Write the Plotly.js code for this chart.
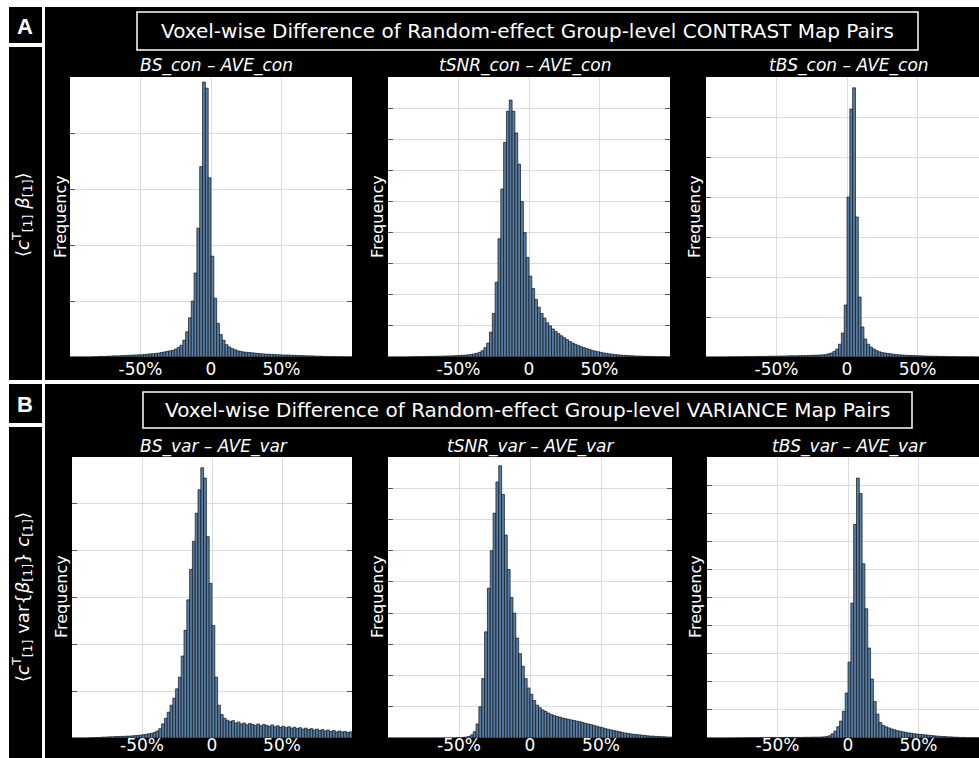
<!DOCTYPE html>
<html>
<head>
<meta charset="utf-8">
<script src="https://cdn.plot.ly/plotly-3.0.1.min.js"></script>
<style>
  html, body { margin: 0; padding: 0; background: #ffffff; }
  #chart { width: 979px; height: 758px; }
</style>
</head>
<body>
<div id="chart"></div>
<script>
// ---------------- DATA ----------------
// Histogram bins: 2% wide, first bin centred at -99%, last at +99% (100 bins)
const binStart = -99;
const binWidth = 2;

const xTickVals = [-50, 0, 50];
const xTickText = ['-50%', '0', '50%'];

const panelTitles = [
  'Voxel-wise Difference of Random-effect Group-level CONTRAST Map Pairs',
  'Voxel-wise Difference of Random-effect Group-level VARIANCE Map Pairs'
];
const subplotTitles = [
  'BS_con – AVE_con', 'tSNR_con – AVE_con', 'tBS_con – AVE_con',
  'BS_var – AVE_var', 'tSNR_var – AVE_var', 'tBS_var – AVE_var'
];
const yAxisLabel = 'Frequency';
const panelLetters = ['A', 'B'];
const rowLabels = [
  '⟨<i>c</i><sup>T</sup><sub>[1]</sub> <i>β</i><sub>[1]</sub>⟩',
  '⟨<i>c</i><sup>T</sup><sub>[1]</sub> var{<i>β</i><sub>[1]</sub>} <i>c</i><sub>[1]</sub>⟩'
];

// frequencies (arbitrary units, gridline = 1)
const bsCon = [
  0, 0, 0, 0, 0, 0, 0, 0, 0.005, 0.005,
  0.01, 0.01, 0.01, 0.015, 0.015, 0.02, 0.02, 0.02, 0.025, 0.025,
  0.03, 0.03, 0.035, 0.035, 0.04, 0.04, 0.045, 0.05, 0.055, 0.06,
  0.065, 0.07, 0.08, 0.09, 0.1, 0.11, 0.12, 0.14, 0.17, 0.21,
  0.3, 0.45, 0.7, 1.0, 1.5, 2.3, 3.4, 4.91, 4.8, 3.2,
  1.8, 1.05, 0.6, 0.4, 0.3, 0.22, 0.18, 0.15, 0.13, 0.11,
  0.1, 0.09, 0.085, 0.08, 0.075, 0.07, 0.065, 0.06, 0.055, 0.05,
  0.05, 0.045, 0.045, 0.04, 0.04, 0.035, 0.035, 0.035, 0.03, 0.03,
  0.028, 0.025, 0.025, 0.022, 0.02, 0.02, 0.018, 0.015, 0.015, 0.012,
  0.01, 0.01, 0.008, 0.008, 0.006, 0.005, 0.005, 0.004, 0.003, 0.003
];
const tsnrCon = [
  0, 0, 0, 0, 0, 0, 0, 0.005, 0.005, 0.01,
  0.01, 0.01, 0.015, 0.015, 0.02, 0.02, 0.02, 0.025, 0.025, 0.03,
  0.03, 0.035, 0.035, 0.04, 0.045, 0.05, 0.055, 0.06, 0.07, 0.08,
  0.1, 0.12, 0.15, 0.2, 0.3, 0.45, 0.8, 1.4, 2.4, 3.8,
  5.4, 6.9, 7.9, 8.26, 7.9, 7.2, 6.2, 5.0, 4.0, 3.2,
  2.6, 2.2, 1.85, 1.6, 1.4, 1.25, 1.1, 1.0, 0.9, 0.82,
  0.75, 0.68, 0.62, 0.56, 0.5, 0.45, 0.41, 0.37, 0.33, 0.3,
  0.27, 0.24, 0.21, 0.19, 0.17, 0.15, 0.13, 0.12, 0.1, 0.09,
  0.08, 0.07, 0.06, 0.055, 0.05, 0.045, 0.04, 0.035, 0.03, 0.03,
  0.025, 0.02, 0.02, 0.015, 0.015, 0.01, 0.01, 0.01, 0.005, 0.005
];
const tbsCon = [
  0, 0, 0, 0, 0, 0, 0, 0, 0.005, 0.005,
  0.005, 0.005, 0.005, 0.01, 0.01, 0.01, 0.01, 0.01, 0.015, 0.015,
  0.015, 0.015, 0.02, 0.02, 0.02, 0.02, 0.025, 0.025, 0.025, 0.03,
  0.03, 0.03, 0.03, 0.035, 0.035, 0.035, 0.04, 0.04, 0.045, 0.045,
  0.05, 0.055, 0.06, 0.08, 0.1, 0.14, 0.2, 0.32, 0.6, 1.3,
  4.0, 6.2, 6.73, 3.5, 1.5, 0.75, 0.45, 0.32, 0.25, 0.2,
  0.16, 0.13, 0.11, 0.1, 0.09, 0.08, 0.07, 0.06, 0.055, 0.05,
  0.045, 0.04, 0.04, 0.035, 0.035, 0.03, 0.03, 0.025, 0.025, 0.02,
  0.02, 0.02, 0.015, 0.015, 0.015, 0.01, 0.01, 0.01, 0.01, 0.005,
  0.005, 0.005, 0.005, 0.005, 0.005, 0, 0, 0, 0, 0
];
const bsVar = [
  0, 0, 0, 0, 0, 0, 0.005, 0.005, 0.01, 0.01,
  0.015, 0.02, 0.02, 0.025, 0.025, 0.03, 0.03, 0.035, 0.035, 0.04,
  0.04, 0.045, 0.05, 0.055, 0.06, 0.07, 0.08, 0.09, 0.1, 0.12,
  0.15, 0.2, 0.3, 0.42, 0.55, 0.7, 0.85, 1.05, 1.3, 1.75,
  2.3, 2.95, 3.6, 4.2, 4.8, 5.3, 5.77, 5.55, 4.3, 3.3,
  2.4, 1.3, 0.7, 0.5, 0.42, 0.38, 0.35, 0.37, 0.32, 0.34,
  0.3, 0.32, 0.28, 0.31, 0.29, 0.27, 0.3, 0.26, 0.29, 0.27,
  0.25, 0.28, 0.24, 0.26, 0.23, 0.25, 0.22, 0.24, 0.21, 0.23,
  0.2, 0.22, 0.19, 0.21, 0.18, 0.2, 0.17, 0.19, 0.16, 0.18,
  0.15, 0.17, 0.14, 0.16, 0.13, 0.15, 0.13, 0.14, 0.12, 0.13
];
const tsnrVar = [
  0, 0, 0, 0, 0, 0, 0, 0, 0, 0,
  0, 0, 0, 0, 0, 0, 0, 0, 0, 0,
  0, 0, 0, 0.005, 0.01, 0.01, 0.02, 0.03, 0.05, 0.1,
  0.2, 0.45, 1.0, 1.9, 3.4, 4.8, 6.0, 7.2, 8.2, 8.72,
  7.8, 6.5, 5.4, 4.5, 4.0, 3.2, 2.7, 2.3, 1.9, 1.6,
  1.4, 1.2, 1.05, 0.97, 0.9, 0.85, 0.8, 0.75, 0.72, 0.69,
  0.67, 0.64, 0.62, 0.6, 0.58, 0.56, 0.54, 0.52, 0.5, 0.47,
  0.45, 0.43, 0.4, 0.38, 0.35, 0.33, 0.3, 0.28, 0.26, 0.24,
  0.22, 0.2, 0.18, 0.16, 0.15, 0.13, 0.12, 0.11, 0.1, 0.09,
  0.08, 0.07, 0.06, 0.06, 0.05, 0.05, 0.04, 0.04, 0.03, 0.03
];
const tbsVar = [
  0, 0, 0, 0, 0, 0, 0, 0, 0, 0,
  0.005, 0.005, 0.005, 0.005, 0.01, 0.01, 0.01, 0.01, 0.01, 0.01,
  0.01, 0.01, 0.015, 0.015, 0.015, 0.015, 0.015, 0.02, 0.02, 0.02,
  0.02, 0.02, 0.02, 0.02, 0.025, 0.025, 0.025, 0.03, 0.03, 0.03,
  0.035, 0.04, 0.05, 0.08, 0.15, 0.25, 0.4, 0.6, 0.95, 1.6,
  2.7, 4.8, 7.6, 9.25, 8.7, 6.2, 4.6, 3.2, 2.1, 1.3,
  0.85, 0.55, 0.45, 0.4, 0.36, 0.32, 0.29, 0.26, 0.24, 0.22,
  0.2, 0.18, 0.17, 0.15, 0.14, 0.13, 0.12, 0.11, 0.1, 0.09,
  0.08, 0.07, 0.06, 0.05, 0.05, 0.04, 0.04, 0.03, 0.03, 0.02,
  0.02, 0.02, 0.01, 0.01, 0.01, 0.01, 0.01, 0.01, 0.01, 0.01
];
const seriesList = [bsCon, tsnrCon, tbsCon, bsVar, tsnrVar, tbsVar];

// ---------------- LAYOUT HELPERS ----------------
const W = 979, H = 758;
const px = x => x / W;
const py = y => 1 - y / H;
const FONT = 'DejaVu Sans';

// plot-area geometry in pixels (left, right, top, bottom), x-range end, y max, mirror ticks
const geo = [
  { l: 70,  r: 352, t: 77,  b: 357, xEnd: 100,  yMax: 5,  mirror: true,  stand: 0 },
  { l: 388, r: 670, t: 77,  b: 357, xEnd: 100,  yMax: 9,  mirror: true,  stand: 0 },
  { l: 706, r: 979, t: 77,  b: 357, xEnd: 93.6, yMax: 7,  mirror: false, stand: 0 },
  { l: 72,  r: 352, t: 457, b: 738, xEnd: 100,  yMax: 6,  mirror: true,  stand: -5 },
  { l: 388, r: 672, t: 457, b: 738, xEnd: 100,  yMax: 9,  mirror: true,  stand: -5 },
  { l: 707, r: 979, t: 457, b: 738, xEnd: 92.9, yMax: 10, mirror: false, stand: -5 }
];

const traces = [];
const layout = {
  width: W, height: H,
  margin: { l: 0, r: 0, t: 0, b: 0, pad: 0 },
  paper_bgcolor: '#000000',
  plot_bgcolor: '#ffffff',
  showlegend: false,
  bargap: 0,
  font: { family: FONT, color: '#ffffff', size: 12 },
  shapes: [],
  annotations: []
};

geo.forEach((g, i) => {
  const sfx = i === 0 ? '' : String(i + 1);
  traces.push({
    type: 'bar',
    x0: binStart, dx: binWidth,
    y: seriesList[i],
    xaxis: 'x' + sfx, yaxis: 'y' + sfx,
    marker: { color: '#577ea6', line: { color: '#111111', width: 0.7 } },
    hoverinfo: 'skip'
  });
  layout['xaxis' + sfx] = {
    domain: [px(g.l), px(g.r)],
    range: [-100, g.xEnd],
    anchor: 'y' + sfx,
    tickvals: xTickVals, ticktext: xTickText,
    showgrid: true, gridcolor: '#dcdcdc', gridwidth: 1,
    zeroline: false, showline: false, ticks: '',
    tickfont: { family: FONT, size: 17, color: '#ffffff' },
    ticklabelstandoff: g.stand,
    fixedrange: true
  };
  layout['yaxis' + sfx] = {
    domain: [py(g.b), py(g.t)],
    range: [0, g.yMax],
    anchor: 'x' + sfx,
    tick0: 0, dtick: 1,
    showticklabels: false,
    ticks: 'inside', ticklen: 5, tickcolor: '#555555', tickwidth: 1,
    mirror: g.mirror ? 'ticks' : false,
    showgrid: true, gridcolor: '#dcdcdc', gridwidth: 1,
    zeroline: false, showline: false,
    fixedrange: true
  };
});

// white separators / margins
function whiteRect(x0, y0, x1, y1) {
  layout.shapes.push({
    type: 'rect', xref: 'paper', yref: 'paper',
    x0: px(x0), x1: px(x1), y0: py(y1), y1: py(y0),
    fillcolor: '#ffffff', line: { width: 0 }, layer: 'above'
  });
}
whiteRect(0, 0, 979, 7);      // top margin
whiteRect(0, 0, 9, 758);      // left margin
whiteRect(42, 0, 45, 758);    // column separator
whiteRect(9, 43, 42, 47);     // below "A"
whiteRect(0, 380, 979, 384);  // between panels
whiteRect(9, 423, 42, 427);   // below "B"

// title boxes
function outlineRect(x0, y0, x1, y1) {
  layout.shapes.push({
    type: 'rect', xref: 'paper', yref: 'paper',
    x0: px(x0), x1: px(x1), y0: py(y1), y1: py(y0),
    fillcolor: 'rgba(0,0,0,0)', line: { color: '#ffffff', width: 1.5 }, layer: 'above'
  });
}
outlineRect(137, 12, 918, 50);
outlineRect(143, 392, 912, 428);

function ann(text, x, y, size, extra) {
  layout.annotations.push(Object.assign({
    text: text, xref: 'paper', yref: 'paper', x: px(x), y: py(y),
    xanchor: 'center', yanchor: 'middle', showarrow: false,
    font: { family: FONT, size: size, color: '#ffffff' }
  }, extra || {}));
}

// panel letters
ann('<b>' + panelLetters[0] + '</b>', 25, 26, 22, { font: { family: 'Liberation Sans', size: 22, color: '#ffffff' } });
ann('<b>' + panelLetters[1] + '</b>', 25, 404, 22, { font: { family: 'Liberation Sans', size: 22, color: '#ffffff' } });

// panel titles
ann(panelTitles[0], 527, 31, 20);
ann(panelTitles[1], 527, 410, 20);

// subplot titles
const subTitlePos = [[216, 65], [525, 65], [849, 65], [214, 446], [530, 446], [849, 446]];
subplotTitles.forEach((t, i) => ann('<i>' + t + '</i>', subTitlePos[i][0], subTitlePos[i][1], 17));

// y axis labels
const freqPos = [[60, 217], [377, 217], [694, 217], [61, 597], [377, 597], [695, 597]];
freqPos.forEach(p => ann(yAxisLabel, p[0], p[1], 16, { textangle: -90 }));

// row labels
ann(rowLabels[0], 22, 215, 18, { textangle: -90 });
ann(rowLabels[1], 22, 597, 18, { textangle: -90 });

Plotly.newPlot('chart', traces, layout, { staticPlot: true, displayModeBar: false });
</script>
</body>
</html>
